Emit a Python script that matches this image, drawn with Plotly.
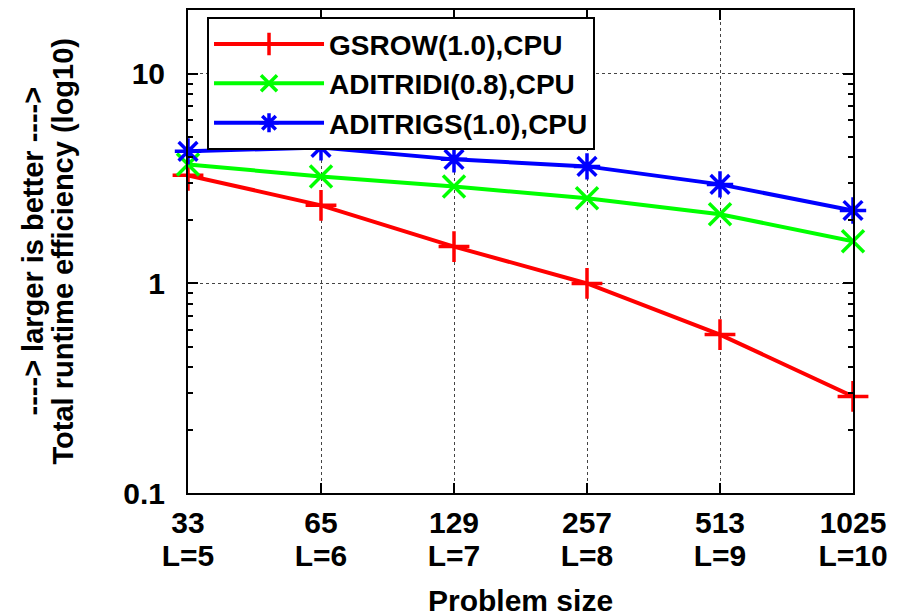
import plotly.graph_objects as go

sizes = ["33", "65", "129", "257", "513", "1025"]
levels = ["L=5", "L=6", "L=7", "L=8", "L=9", "L=10"]
gsrow = [3.28, 2.36, 1.50, 1.00, 0.57, 0.289]
aditridi = [3.70, 3.24, 2.90, 2.55, 2.14, 1.59]
aditrigs = [4.27, 4.46, 3.91, 3.62, 2.97, 2.23]
series_names = ["GSROW(1.0),CPU", "ADITRIDI(0.8),CPU", "ADITRIGS(1.0),CPU"]
y_ticks = [0.1, 1, 10]
y_ticktext = ["0.1", "1", "10"]
y_minor = [0.2, 0.3, 0.4, 0.5, 0.6, 0.7, 0.8, 0.9,
           2, 3, 4, 5, 6, 7, 8, 9, 20]

xpos = list(range(len(sizes)))
FONT = "Liberation Sans, Arial, sans-serif"

fig = go.Figure()
styles = [
    ("#ff0000", "cross-thin-open"),
    ("#00ff00", "x-thin-open"),
    ("#0000ff", "asterisk-open"),
]
for name, vals, (col, sym) in zip(series_names, [gsrow, aditridi, aditrigs], styles):
    fig.add_trace(go.Scatter(
        x=xpos, y=vals, name=name, mode="lines+markers",
        line=dict(color=col, width=4),
        marker=dict(symbol=sym, size=22, color=col, line=dict(color=col, width=3.5)),
        cliponaxis=False,
    ))

# invisible helper trace so the second (level) tick-label axis is drawn
fig.add_trace(go.Scatter(
    x=xpos, y=gsrow, xaxis="x2", mode="markers",
    marker=dict(opacity=0), showlegend=False, hoverinfo="skip",
))

xr = [xpos[0], xpos[-1]]
fig.update_layout(
    width=903, height=616,
    margin=dict(l=188, r=50, t=10, b=123, autoexpand=False),
    paper_bgcolor="white", plot_bgcolor="white",
    font=dict(family=FONT, size=30, color="black", weight="bold"),
    showlegend=True,
    legend=dict(
        x=0.0286, y=0.985, xanchor="left", yanchor="top",
        bgcolor="white", bordercolor="black", borderwidth=2,
        font=dict(size=28, weight="bold"), itemwidth=110, tracegroupgap=0,
    ),
    xaxis=dict(
        range=xr, automargin=False,
        tickmode="array", tickvals=xpos, ticktext=sizes,
        showline=True, mirror="ticks", linecolor="black", linewidth=2,
        ticks="inside", ticklen=10, tickwidth=1.5, tickcolor="black",
        showgrid=True, gridcolor="#444", griddash="dot", gridwidth=1,
        ticklabelstandoff=2,
        tickfont=dict(size=30, weight="bold"),
        zeroline=False,
    ),
    xaxis2=dict(
        overlaying="x", anchor="y", side="bottom",
        range=xr, automargin=False,
        tickmode="array", tickvals=xpos, ticktext=levels,
        showline=False, showgrid=False, ticks="", zeroline=False,
        ticklabelstandoff=42,
        tickfont=dict(size=30, weight="bold"),
    ),
    yaxis=dict(
        type="log", range=[-1, 1.305], automargin=False,
        tickvals=y_ticks, ticktext=y_ticktext,
        showline=True, mirror="ticks", linecolor="black", linewidth=2,
        ticks="inside", ticklen=10, tickwidth=1.5, tickcolor="black",
        showgrid=True, gridcolor="#444", griddash="dot", gridwidth=1,
        minor=dict(tickmode="array", tickvals=y_minor, ticks="inside", ticklen=5,
                   tickcolor="black", tickwidth=1.5, showgrid=False),
        ticklabelstandoff=15,
        tickfont=dict(size=30, weight="bold"),
        zeroline=False,
    ),
)

fig.add_annotation(
    text="Problem size",
    xref="paper", yref="paper", x=0.5, y=0, xanchor="center", yanchor="middle",
    yshift=-107, showarrow=False, font=dict(size=30, weight="bold"),
)
fig.add_annotation(
    text="----> larger is better ---->", textangle=-90,
    xref="paper", yref="paper", x=0, y=0.5, xanchor="center", yanchor="middle",
    xshift=-156, showarrow=False, font=dict(size=29, weight="bold"),
)
fig.add_annotation(
    text="Total runtime efficiency (log10)", textangle=-90,
    xref="paper", yref="paper", x=0, y=0.5, xanchor="center", yanchor="middle",
    xshift=-126, showarrow=False, font=dict(size=29, weight="bold"),
)

fig.write_html("out.html")
